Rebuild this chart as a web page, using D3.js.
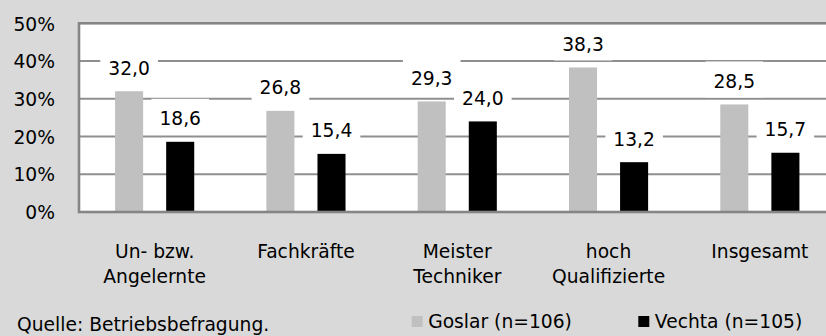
<!DOCTYPE html>
<html><head><meta charset="utf-8">
<script src="https://cdn.jsdelivr.net/npm/d3@7"></script>
<style>
html,body{margin:0;padding:0;background:#d9d9d9;}
svg{display:block;}
text{font-family:"DejaVu Sans",sans-serif;font-size:18.7px;fill:#000;}
</style>
</head><body>
<svg id="chart" width="826" height="336"></svg>
<script>
// Anteil der Betriebe nach Qualifikationsgruppe (in %)
const categories = [["Un- bzw.", "Angelernte"], ["Fachkräfte"], ["Meister", "Techniker"], ["hoch", "Qualifizierte"], ["Insgesamt"]];
const goslar = [32.0, 26.8, 29.3, 38.3, 28.5];
const vechta = [18.6, 15.4, 24.0, 13.2, 15.7];
const seriesNames = ["Goslar (n=106)", "Vechta (n=105)"];
const seriesColors = ["#c0c0c0", "#000000"];
const yTicks = [0, 10, 20, 30, 40, 50];
const sourceNote = "Quelle: Betriebsbefragung.";

const svg = d3.select("#chart");
const plot = {left: 79, right: 835.5, top: 23.3, bottom: 212};

const x0 = d3.scaleBand().domain(d3.range(categories.length)).range([plot.left, plot.right]).padding(0);
const x1 = d3.scaleBand().domain([0, 1]).range([0, x0.bandwidth()]).paddingInner(0.451).paddingOuter(0.706);
const y = d3.scaleLinear().domain([0, 50]).range([plot.bottom, plot.top]);

// plot background
svg.append("rect").attr("x", plot.left).attr("y", plot.top)
  .attr("width", plot.right - plot.left).attr("height", plot.bottom - plot.top)
  .attr("fill", "#fff");

// gridlines
svg.append("g").selectAll("line").data(yTicks.filter(t => t > 0 && t < 50)).join("line")
  .attr("x1", plot.left).attr("x2", plot.right)
  .attr("y1", d => y(d)).attr("y2", d => y(d))
  .attr("stroke", "#8f8f8f").attr("stroke-width", 2);

// y axis labels
const yAxis = d3.axisLeft(y).tickValues(yTicks).tickFormat(d => d + "%").tickSize(0).tickPadding(24);
const ya = svg.append("g").attr("transform", `translate(${plot.left},0)`).call(yAxis);
ya.select(".domain").remove();
ya.selectAll("text").attr("font-size", null).attr("font-family", null).attr("dy", "0.36em");

const rows = categories.map((c, i) => [goslar[i], vechta[i]]);
const groups = svg.append("g").selectAll("g").data(rows).join("g")
  .attr("transform", (d, i) => `translate(${x0(i)},0)`);

// bars
groups.selectAll("rect.bar").data(d => d).join("rect").attr("class", "bar")
  .attr("x", (d, j) => x1(j)).attr("width", x1.bandwidth())
  .attr("y", d => y(d)).attr("height", d => y(0) - y(d))
  .attr("fill", (d, j) => seriesColors[j]);

// value labels on white boxes
const fmt = v => v.toFixed(1).replace(".", ",");
const labels = groups.selectAll("g.lab").data(d => d).join("g").attr("class", "lab");
labels.each(function(d, j) {
  const g = d3.select(this);
  const cx = x1(j) + x1.bandwidth() / 2;
  const top = y(d);
  const box = g.append("rect").attr("fill", "#fff");
  const t = g.append("text").attr("x", cx).attr("y", top - 16.5).attr("text-anchor", "middle").text(fmt(d));
  const w = t.node().getComputedTextLength() + 16;
  box.attr("x", cx - w / 2).attr("width", w).attr("y", top - 43).attr("height", 36);
});

// plot border
svg.append("rect").attr("x", plot.left).attr("y", plot.top)
  .attr("width", plot.right - plot.left).attr("height", plot.bottom - plot.top)
  .attr("fill", "none").attr("stroke", "#858585").attr("stroke-width", 2.6);

// category labels
svg.append("g").selectAll("text").data(categories).join("text")
  .attr("text-anchor", "middle")
  .attr("transform", (d, i) => `translate(${x0(i) + x0.bandwidth() / 2},257.5)`)
  .selectAll("tspan").data(d => d).join("tspan")
  .attr("x", 0).attr("dy", (d, k) => k === 0 ? 0 : 25.5).text(d => d);

// legend
const legendX = [411.7, 638.3];
const lg = svg.append("g").selectAll("g").data(seriesNames).join("g")
  .attr("transform", (d, i) => `translate(${legendX[i]},316)`);
lg.append("rect").attr("width", 11).attr("height", 11).attr("fill", (d, i) => seriesColors[i]);
lg.append("text").attr("x", 16.5).attr("y", 11.5).text(d => d);

// source note
svg.append("text").attr("x", 17).attr("y", 331).text(sourceNote);
</script>
</body></html>
